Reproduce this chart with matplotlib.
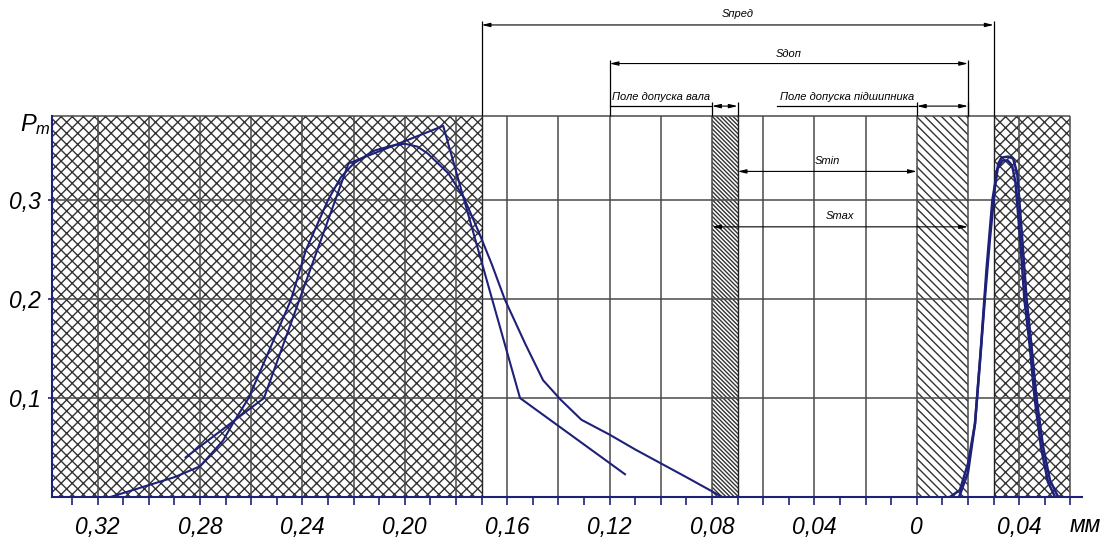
import matplotlib.pyplot as plt
from matplotlib.patches import Rectangle
from matplotlib.ticker import MultipleLocator

plt.rcParams['hatch.linewidth'] = 1.0
plt.rcParams['hatch.color'] = '#333333'
plt.rcParams['mathtext.fontset'] = 'custom'
plt.rcParams['mathtext.it'] = 'Liberation Sans:italic'
plt.rcParams['mathtext.rm'] = 'Liberation Sans'

# x in mm: negative side = clearance (labels shown without sign), positive = interference
theory_x = [-0.315, -0.300, -0.290, -0.280, -0.271, -0.267, -0.261, -0.2535, -0.2445,
            -0.2387, -0.230, -0.225, -0.220, -0.212, -0.205, -0.200, -0.195, -0.191,
            -0.183, -0.177, -0.171, -0.166, -0.161, -0.153, -0.146, -0.139, -0.131,
            -0.120, -0.110, -0.100, -0.090, -0.076]
theory_p = [0.000, 0.012, 0.020, 0.031, 0.057, 0.075, 0.100, 0.145, 0.199,
            0.249, 0.300, 0.323, 0.337, 0.350, 0.355, 0.357, 0.354, 0.347,
            0.327, 0.303, 0.267, 0.235, 0.200, 0.155, 0.118, 0.098, 0.078,
            0.063, 0.048, 0.034, 0.020, 0.000]

# empirical polygon
emp_x = [-0.2856, -0.255, -0.222, -0.185, -0.155, -0.114]
emp_p = [0.040, 0.100, 0.337, 0.375, 0.100, 0.023]

# interference distribution (two close traces)
fit_x = [0.0129, 0.0168, 0.020, 0.0227, 0.0246, 0.0266, 0.0285, 0.0305, 0.0318, 0.0331,
         0.0357, 0.0376, 0.0392, 0.0409, 0.0428, 0.0448, 0.0467, 0.0493, 0.052, 0.0552]
fit_p = [0.000, 0.007, 0.034, 0.074, 0.135, 0.202, 0.260, 0.313, 0.337, 0.343,
         0.344, 0.342, 0.327, 0.270, 0.202, 0.152, 0.101, 0.051, 0.017, 0.000]
fit2_x = [0.0165, 0.0200, 0.0227, 0.0250, 0.0272, 0.0295, 0.0315, 0.0335, 0.0355, 0.0372,
          0.0385, 0.0402, 0.0420, 0.0442, 0.0460, 0.0485, 0.0512, 0.0540]
fit2_p = [0.000, 0.025, 0.074, 0.150, 0.230, 0.300, 0.332, 0.340, 0.340, 0.335,
          0.318, 0.265, 0.200, 0.150, 0.100, 0.050, 0.015, 0.000]

xtick_pos = [-0.32, -0.28, -0.24, -0.20, -0.16, -0.12, -0.08, -0.04, 0.0, 0.04]
xtick_labels = ['0,32', '0,28', '0,24', '0,20', '0,16', '0,12', '0,08', '0,04', '0', '0,04']
ytick_pos = [0.1, 0.2, 0.3]
ytick_labels = ['0,1', '0,2', '0,3']

x_left, x_right = -0.3378, 0.0645
top = 0.385
grid_end = 0.06

# hatched zones: x0, x1, hatch
zones = [(x_left, -0.17, 'xxx'), (-0.08, -0.07, '\\' * 8), (0.0, 0.02, '\\' * 4),
         (0.03, grid_end, 'xxx')]
zone_edges = [-0.17, -0.07, 0.03]

# dimension lines: label, x0, x1, level, label level
outer_dims = [('Sпред', -0.17, 0.03, 0.477, 0.488), ('Sдоп', -0.12, 0.02, 0.438, 0.448)]
inner_dims = [('Smin', -0.07, 0.0, 0.329, 0.340), ('Smax', -0.08, 0.02, 0.273, 0.284)]
# tolerance fields: label, shelf start, x0, x1
fields = [('Поле допуска вала', -0.12, -0.08, -0.07), ('Поле допуска підшипника', -0.0545, 0.0, 0.02)]
field_level = 0.395

navy = '#1e2178'
grid_col = '#4a4a4a'
dim_font = dict(family='Liberation Sans', style='italic', size=8)

fig = plt.figure(figsize=(11.09, 5.51), dpi=100)
ax = fig.add_axes([52 / 1109, 54 / 551, 1030 / 1109, 381 / 551])
ax.set_xlim(x_left, x_right)
ax.set_ylim(0, top)

for x0, x1, h in zones:
    ax.add_patch(Rectangle((x0, 0), x1 - x0, top, facecolor='white', edgecolor='#333333',
                           hatch=h, lw=0, zorder=0.5))

grid_x = [x / 100 for x in range(-32, 7, 2)]
ax.vlines(grid_x, 0, top, color=grid_col, lw=1.1, zorder=1)
ax.vlines(zone_edges, 0, top, color='#222222', lw=1.0, zorder=1)
ax.hlines(ytick_pos, x_left, grid_end, color=grid_col, lw=1.1, zorder=1)
ax.hlines(top, x_left, grid_end, color=grid_col, lw=1.1, zorder=1, clip_on=False)

ax.plot(theory_x, theory_p, color=navy, lw=1.5, zorder=3)
ax.plot(emp_x, emp_p, color=navy, lw=1.5, zorder=3)
ax.plot(fit_x, fit_p, color=navy, lw=1.8, zorder=3)
ax.plot(fit2_x, fit2_p, color=navy, lw=1.8, zorder=3)

arrow = dict(arrowstyle='<|-|>,head_length=0.5,head_width=0.12', color='black', lw=0.8,
             shrinkA=0, shrinkB=0)

for name, x0, x1, lev, tlev in outer_dims:
    ax.vlines([x0, x1], top, lev + 0.004, color='black', lw=0.9, clip_on=False)
    ax.annotate('', xy=(x1, lev), xytext=(x0, lev), arrowprops=arrow, annotation_clip=False)
    ax.text((x0 + x1) / 2, tlev, name, ha='center', va='center', clip_on=False, **dim_font)

for name, x0, x1, lev, tlev in inner_dims:
    ax.annotate('', xy=(x1, lev), xytext=(x0, lev), arrowprops=arrow, zorder=2)
    ax.text((x0 + x1) / 2, tlev, name, ha='center', va='center', **dim_font)

for name, s0, x0, x1 in fields:
    ax.vlines([x0, x1], top, field_level + 0.004, color='black', lw=0.9, clip_on=False)
    ax.plot([s0, x0], [field_level, field_level], color='black', lw=0.9, clip_on=False)
    ax.annotate('', xy=(x1, field_level), xytext=(x0, field_level), arrowprops=arrow,
                annotation_clip=False)
    ax.text((s0 + x0) / 2, field_level + 0.009, name, ha='center', va='center',
            clip_on=False, **dim_font)

for side in ['top', 'right']:
    ax.spines[side].set_visible(False)
ax.spines['left'].set_color(navy)
ax.spines['bottom'].set_color(navy)
ax.spines['left'].set_linewidth(1.5)
ax.spines['bottom'].set_linewidth(1.5)

tick_font = dict(family='Liberation Sans', style='italic', size=16.5)
ax.set_xticks(xtick_pos, xtick_labels, **tick_font)
ax.xaxis.set_minor_locator(MultipleLocator(0.01))
ax.set_yticks(ytick_pos, ytick_labels, **tick_font)
ax.tick_params(axis='x', which='both', direction='out', length=6, width=1.2, color=navy, pad=8)
ax.tick_params(axis='y', direction='out', length=3, width=1.2, color=navy, pad=5)

fig.text(1085 / 1109, 1 - 526 / 551, 'мм', ha='center', va='center', **tick_font)
fig.text(20 / 1109, 1 - 125 / 551, r'$P_m$', ha='left', va='center', size=17)

fig.savefig('out.png', dpi=100)
